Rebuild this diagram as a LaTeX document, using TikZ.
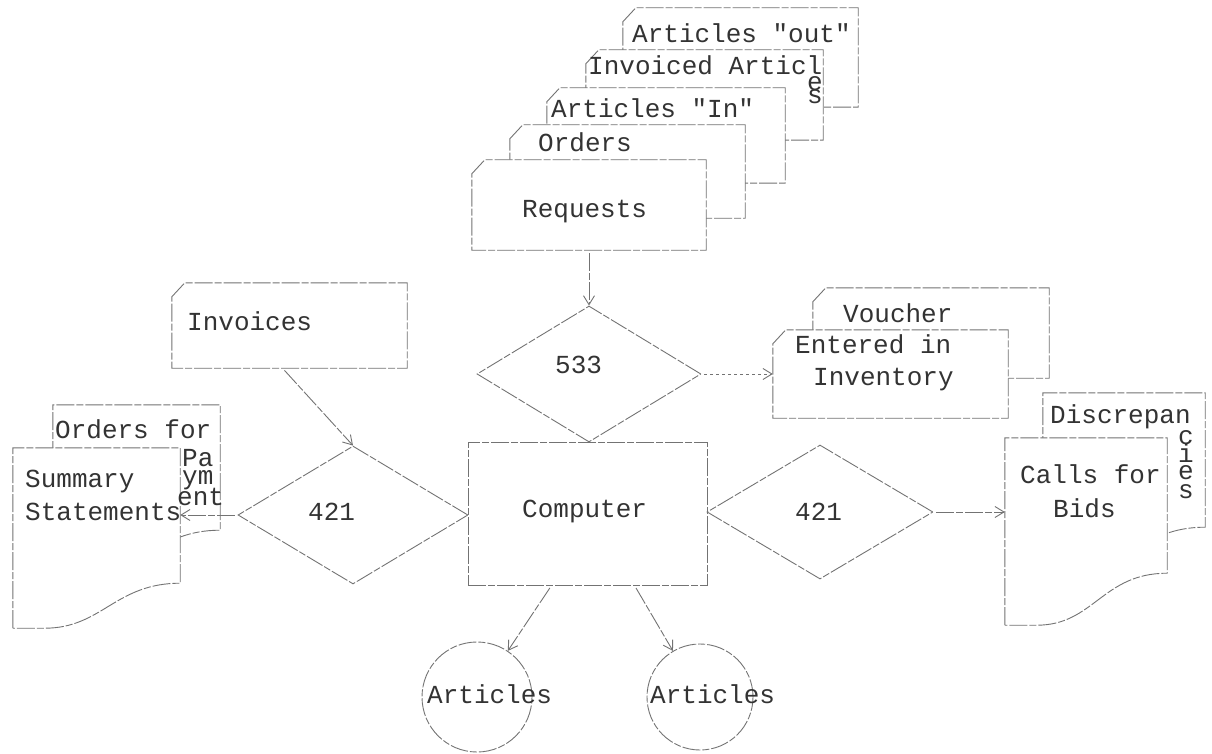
\documentclass[tikz,border=0pt]{standalone}
\usepackage{fontspec}
\newfontfamily\typewriter{Liberation Mono}
\usetikzlibrary{shapes.geometric,arrows.meta}

% outline of a punched card: cut top-left corner
\newcommand\cardoutline[1]{%
  \draw[rough, fill=white] ([yshift=-14pt]#1.north west) -- ([xshift=13pt]#1.north west)
    -- (#1.north east) -- (#1.south east) -- (#1.south west) -- cycle;}
% outline of a printed page: wavy bottom edge
\newcommand\pageoutline[2]{%
  \draw[rough, fill=white] (#1.south west) -- (#1.north west) -- (#1.north east)
    -- ([yshift=#2]#1.south east) .. controls +(-65,0) and +(57,0) .. ([xshift=32pt]#1.south west) -- cycle;}

\begin{document}
\begin{tikzpicture}[x=1pt, y=-1pt,
  rough/.style={draw=black!55, line width=0.9pt, dash pattern=on 18pt off 2pt on 7pt off 2pt},
  card/.style={rectangle, inner sep=0pt},
  decision/.style={rough, diamond, inner sep=0pt},
  docshape/.style={rectangle, inner sep=0pt},
  txt/.style={anchor=base west, inner sep=0pt, text=black!80, font=\typewriter\fontsize{26}{26}\selectfont},
  flow/.style={rough, -{Straight Barb[length=9pt, width=11pt]}, shorten <=3pt}
]
\useasboundingbox (0,0) rectangle (1212,754);

% stack of cards on top
\node[card, minimum width=235pt, minimum height=99pt] (cOut) at (740.5,57.5) {};
\cardoutline{cOut}
\node[txt] (tOut) at (632,43) {Articles "out"};
\node[card, minimum width=237pt, minimum height=90pt] (cInv) at (704.5,95) {};
\cardoutline{cInv}
\node[txt] (tInv) at (588,75) {Invoiced Articl};
\node[txt] (tInvE) at (807,91) {e};
\node[txt] (tInvS) at (807,104) {s};
\node[card, minimum width=238pt, minimum height=95pt] (cIn) at (666,135.5) {};
\cardoutline{cIn}
\node[txt] (tIn) at (551,118) {Articles "In"};
\node[card, minimum width=235pt, minimum height=93pt] (cOrd) at (627.5,171.5) {};
\cardoutline{cOrd}
\node[txt] (tOrd) at (538,152) {Orders};
\node[card, minimum width=234pt, minimum height=90pt] (cReq) at (589,205) {};
\cardoutline{cReq}
\node[txt] (tReq) at (522,217) {Requests};

% middle column
\node[decision, minimum width=224pt, minimum height=136pt] (d533) at (589,374) {};
\node[txt] (t533) at (555,373) {533};
\node[rough, rectangle, minimum width=239pt, minimum height=143pt] (comp) at (587.5,513.5) {};
\node[txt] (tComp) at (522,517) {Computer};
\node[decision, minimum width=230pt, minimum height=138pt] (dL) at (353,515) {};
\node[txt] (tDL) at (308,520) {421};
\node[decision, minimum width=226pt, minimum height=134pt] (dR) at (820,512) {};
\node[txt] (tDR) at (795,520) {421};

% input cards
\node[card, minimum width=235pt, minimum height=85pt] (inv) at (289.5,325.5) {};
\cardoutline{inv}
\node[txt] (tInvo) at (187,330) {Invoices};
\node[card, minimum width=236pt, minimum height=90pt] (cVou) at (931,333) {};
\cardoutline{cVou}
\node[txt] (tVou) at (843,322) {Voucher};
\node[card, minimum width=235pt, minimum height=88pt] (cEnt) at (890.5,374) {};
\cardoutline{cEnt}
\node[txt] (tEnt1) at (795,353) {Entered in};
\node[txt] (tEnt2) at (813,385) {Inventory};

% printed documents, left
\node[docshape, minimum width=167pt, minimum height=170pt] (ordpay) at (136.5,490) {};
\pageoutline{ordpay}{45pt}
\node[docshape, minimum width=167pt, minimum height=180pt] (sum) at (96.5,538) {};
\pageoutline{sum}{45pt}
\node[txt] (tOrdPay) at (55,438) {Orders for};
\node[txt] (tPa) at (182,466) {Pa};
\node[txt] (tYm) at (182,484) {ym};
\node[txt] (tEnt) at (177,505) {ent};
\node[txt] (tSum1) at (25,487) {Summary};
\node[txt] (tSum2) at (25,520) {Statements};

% printed documents, right
\node[docshape, minimum width=162pt, minimum height=177pt] (disc) at (1124,481.5) {};
\pageoutline{disc}{43pt}
\node[txt] (tDisc) at (1050,423) {Discrepan};
\node[docshape, minimum width=162pt, minimum height=187pt] (calls) at (1086,531.5) {};
\pageoutline{calls}{52pt}
\foreach \ch/\yb in {c/444, i/462, e/479, s/498}
  \node[txt] (tCies\ch) at (1178,\yb) {\ch};
\node[txt] (tCalls1) at (1020,483) {Calls for};
\node[txt] (tCalls2) at (1053,517) {Bids};

% output files
\node[rough, circle, minimum size=110pt, inner sep=0pt] (art1) at (477,697) {};
\node[txt] (tArt1) at (427,703) {Articles};
\node[rough, circle, minimum size=106pt, inner sep=0pt] (art2) at (700,697) {};
\node[txt] (tArt2) at (650,703) {Articles};

% connectors
\draw[flow] (cReq.south) -- (d533.north);
\draw[flow, dashed] (d533.east) -- (cEnt.west);
\draw[flow] ([xshift=-7pt]inv.south) -- (dL.north);
\draw[flow] (dL.west) -- (dL.west -| sum.east);
\draw[flow] (dR.east) -- (dR.east -| calls.west);
\draw[flow] ([xshift=-36pt]comp.south) -- (art1);
\draw[flow] ([xshift=47pt]comp.south) -- (art2);
\end{tikzpicture}
\end{document}
